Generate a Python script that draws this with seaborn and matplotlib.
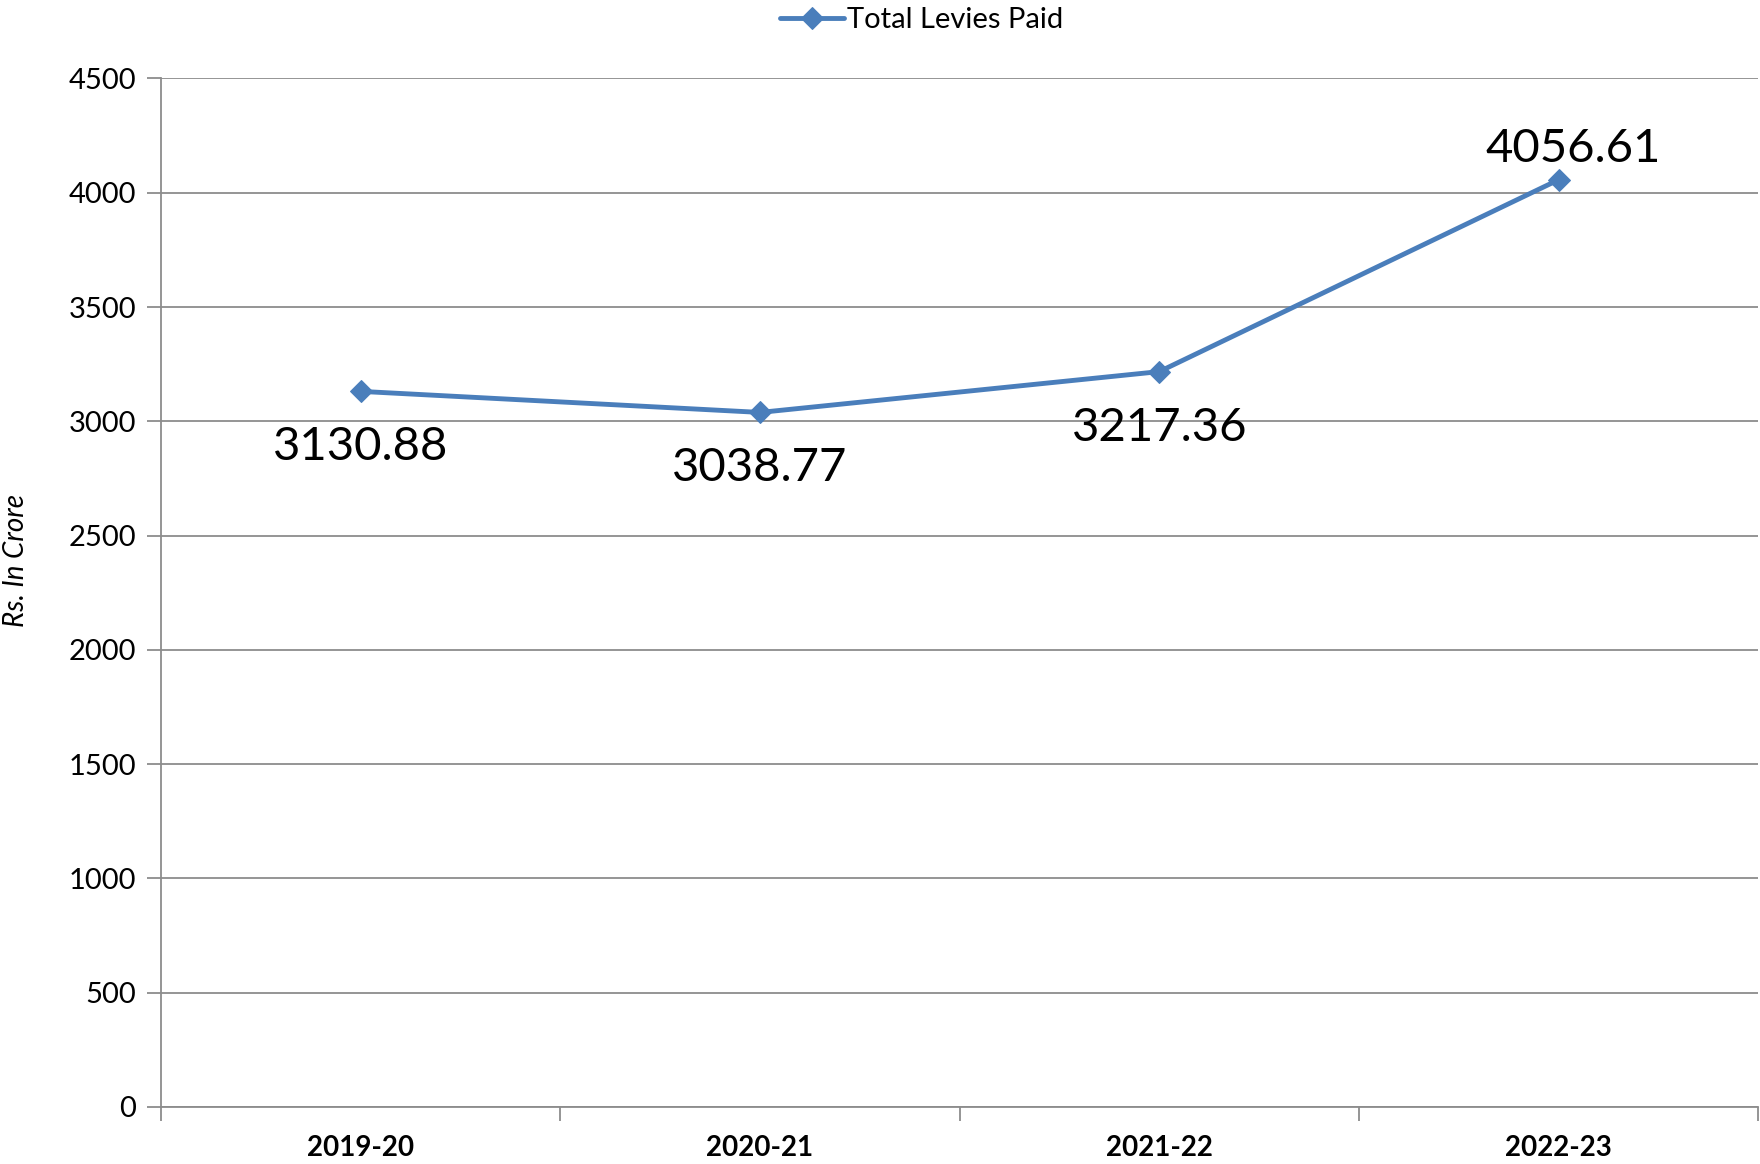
import matplotlib
matplotlib.use("Agg")
import matplotlib.pyplot as plt
import seaborn as sns
import pandas as pd
from matplotlib.ticker import FixedLocator

years = ["2019-20", "2020-21", "2021-22", "2022-23"]
levies = [3130.88, 3038.77, 3217.36, 4056.61]
series_name = "Total Levies Paid"
y_ticks = [0, 500, 1000, 1500, 2000, 2500, 3000, 3500, 4000, 4500]

sns.set_style("white")
plt.rcParams['font.family'] = ['Lato', 'DejaVu Sans']
plt.rcParams['text.color'] = 'black'
plt.rcParams['xtick.color'] = 'black'
plt.rcParams['ytick.color'] = 'black'
plt.rcParams['axes.labelcolor'] = 'black'

df = pd.DataFrame({"Year": years, "Value": levies, "Series": series_name})

fig = plt.figure(figsize=(17.6, 11.64), dpi=100)
ax = fig.add_axes([0.0915, 0.049, 0.9075, 0.8836])

blue = "#4A7EBB"
grid_c = "#8C8C8C"

sns.lineplot(data=df, x="Year", y="Value", hue="Series", palette=[blue],
             marker="D", markersize=11, linewidth=3.5, markeredgecolor=blue,
             ax=ax, sort=False)

ax.set_xlim(-0.5, 3.5)
ax.set_ylim(0, 4500)
ax.set_yticks(y_ticks)
ax.yaxis.grid(True, color=grid_c, linewidth=1.3)
ax.xaxis.grid(False)
ax.set_axisbelow(True)

for s in ["top", "right"]:
    ax.spines[s].set_visible(False)
for s in ["left", "bottom"]:
    ax.spines[s].set_color(grid_c)
    ax.spines[s].set_linewidth(1.3)

ax.tick_params(axis="y", which="major", length=10, width=1.3, color=grid_c,
               labelsize=21, pad=8, left=True, direction="out", labelcolor="black")
ax.tick_params(axis="x", which="major", length=0, labelsize=20, pad=20, labelcolor="black")
ax.xaxis.set_minor_locator(FixedLocator([-0.5, 0.5, 1.5, 2.5, 3.5]))
ax.tick_params(axis="x", which="minor", length=10, width=1.3, color=grid_c,
               bottom=True, direction="out")
for lbl in ax.get_xticklabels():
    lbl.set_fontweight("bold")

ax.set_xlabel("")
ax.set_ylabel("Rs. In Crore", fontsize=20, fontstyle="italic", color="black",
              va="center", ha="center")
ax.yaxis.set_label_coords(-0.0905, 0.531)

offsets = [(0, -56), (0, -56), (0, -56), (15, 31)]
for i, (v, off) in enumerate(zip(levies, offsets)):
    ax.annotate(f"{v:.2f}", xy=(i, v), xytext=(off[0] * 0.72, off[1] * 0.72),
                textcoords="offset points", ha="center", va="center",
                fontsize=34, color="black")

leg = ax.legend(loc="upper center", frameon=False,
                fontsize=21, handlelength=2.2, handletextpad=0.1)
leg.set_bbox_to_anchor(((922 / 1760 - 0.0915) / 0.9075, 1.095), transform=ax.transAxes)
for t in leg.get_texts():
    t.set_color("black")

fig.savefig("out.png", dpi=100)
